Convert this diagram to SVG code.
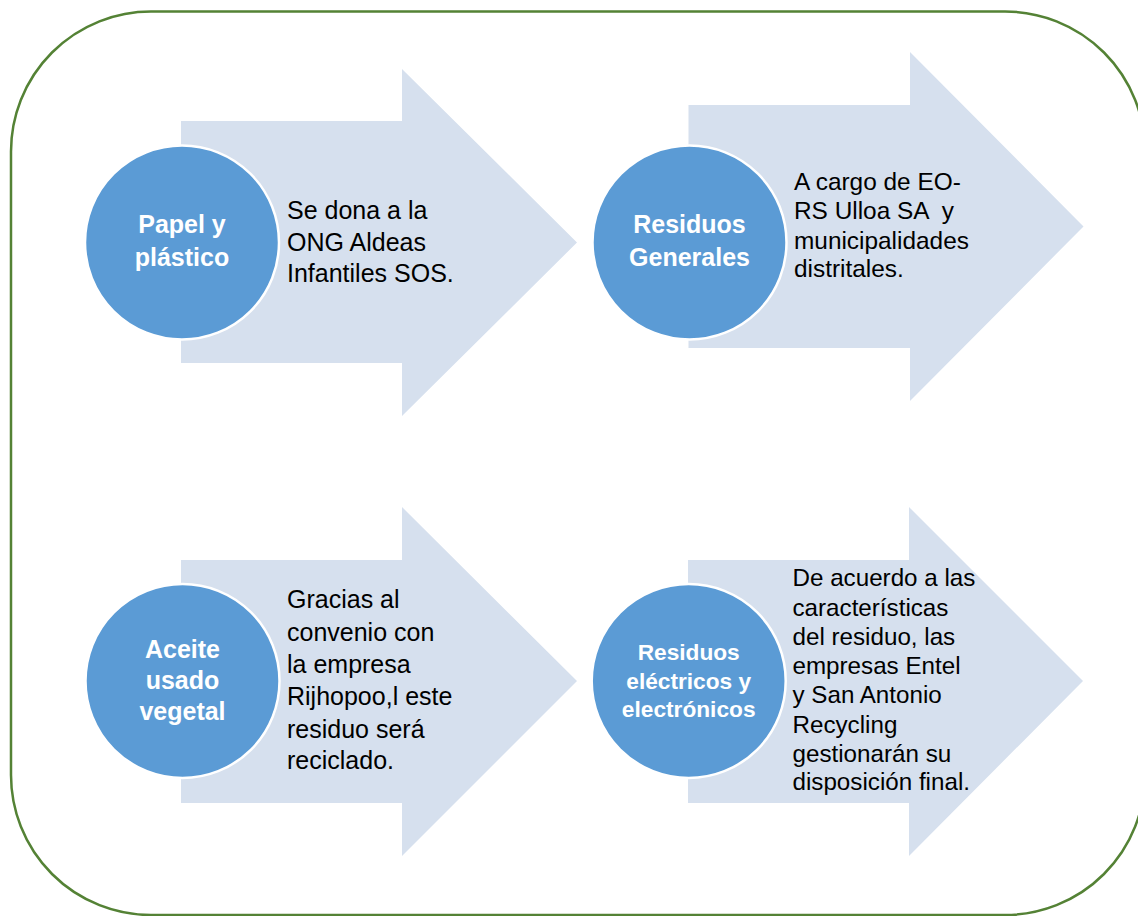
<svg xmlns="http://www.w3.org/2000/svg" width="1138" height="916" viewBox="0 0 1138 916">
  <style>
    .frame { fill: #ffffff; stroke: #548235; stroke-width: 2.5; }
    .arrow { fill: #D6E0EE; stroke: none; }
    .circ { fill: #5B9BD5; stroke: #ffffff; stroke-width: 2.5; }
    .lbl { font-family: "Liberation Sans", Arial, sans-serif; font-weight: bold; fill: #ffffff; text-anchor: middle; }
    .txt { font-family: "Liberation Sans", Arial, sans-serif; fill: #000000; }
  </style>
  <rect x="0" y="0" width="1138" height="916" fill="#ffffff"/>
  <rect class="frame" x="11" y="11.5" width="1134" height="903.5" rx="140" ry="140"/>

  <g id="connectors">
    <polygon id="arrow-1" class="arrow" points="181,121 402,121 402,69 577,242.5 402,416 402,363 181,363"/>
    <polygon id="arrow-2" class="arrow" points="688.5,105 910,105 910,52 1083.5,226.5 910,401 910,348 688.5,348"/>
    <polygon id="arrow-3" class="arrow" points="181,560 402,560 402,507 577,681 402,856 402,803 181,803"/>
    <polygon id="arrow-4" class="arrow" points="688,560 909,560 909,507 1083,681 909,856 909,803 688,803"/>
  </g>

  <g id="node-papel">
    <circle class="circ" cx="182" cy="242.5" r="97"/>
    <text class="lbl" font-size="25"><tspan x="182" y="233">Papel y</tspan><tspan x="182" y="265.5">plástico</tspan></text>
    <text class="txt" font-size="25"><tspan x="287" y="219.3">Se dona a la</tspan><tspan x="287" y="250.7">ONG Aldeas</tspan><tspan x="287" y="281.7">Infantiles SOS.</tspan></text>
  </g>

  <g id="node-generales">
    <circle class="circ" cx="689.5" cy="242.5" r="97"/>
    <text class="lbl" font-size="25"><tspan x="689.5" y="233">Residuos</tspan><tspan x="689.5" y="265.5">Generales</tspan></text>
    <text class="txt" font-size="24.4"><tspan x="794" y="190">A cargo de EO-</tspan><tspan x="794" y="219.3" xml:space="preserve">RS Ulloa SA  y</tspan><tspan x="794" y="248.7">municipalidades</tspan><tspan x="794" y="277.3">distritales.</tspan></text>
  </g>

  <g id="node-aceite">
    <circle class="circ" cx="182.5" cy="681" r="97"/>
    <text class="lbl" font-size="25"><tspan x="182.5" y="658.3">Aceite</tspan><tspan x="182.5" y="689.3">usado</tspan><tspan x="182.5" y="720">vegetal</tspan></text>
    <text class="txt" font-size="25"><tspan x="287" y="608.3">Gracias al</tspan><tspan x="287" y="641">convenio con</tspan><tspan x="287" y="673.3">la empresa</tspan><tspan x="287" y="705">Rijhopoo,l este</tspan><tspan x="287" y="737.5">residuo será</tspan><tspan x="287" y="769.3">reciclado.</tspan></text>
  </g>

  <g id="node-electricos">
    <circle class="circ" cx="688.7" cy="681" r="97"/>
    <text class="lbl" font-size="22.7"><tspan x="688.7" y="660">Residuos</tspan><tspan x="688.7" y="688.5">eléctricos y</tspan><tspan x="688.7" y="717.3">electrónicos</tspan></text>
    <text class="txt" font-size="24.2"><tspan x="792.5" y="586">De acuerdo a las</tspan><tspan x="792.5" y="615.5">características</tspan><tspan x="792.5" y="645">del residuo, las</tspan><tspan x="792.5" y="674">empresas Entel</tspan><tspan x="792.5" y="703">y San Antonio</tspan><tspan x="792.5" y="732.5">Recycling</tspan><tspan x="792.5" y="761.5">gestionarán su</tspan><tspan x="792.5" y="790">disposición final.</tspan></text>
  </g>
</svg>
